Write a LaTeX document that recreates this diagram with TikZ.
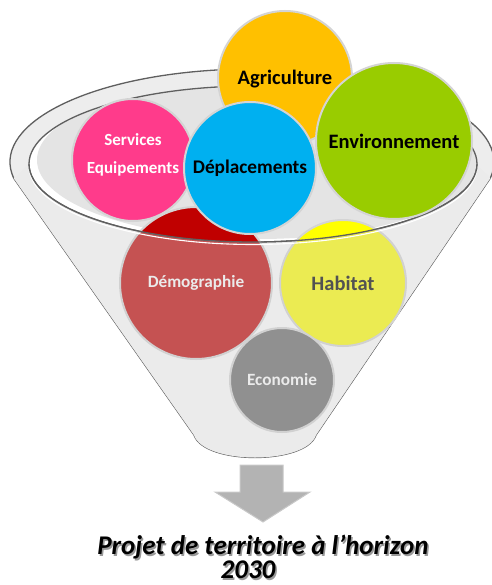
\documentclass[tikz,border=0pt]{standalone}
\usepackage{fontspec}
\setmainfont{Carlito}
\definecolor{rimgray}{HTML}{EDEDED}
\definecolor{edgegray}{HTML}{5F5F5F}
\definecolor{innergray}{HTML}{E4E4E4}
\definecolor{ringgray}{HTML}{D4D4D4}
\definecolor{fadegray}{HTML}{CDCDCD}
\definecolor{cAgri}{HTML}{FFC000}
\definecolor{cEnv}{HTML}{99CC00}
\definecolor{cServ}{HTML}{FF3B8B}
\definecolor{cDep}{HTML}{00B0F0}
\definecolor{cDemo}{HTML}{C00000}
\definecolor{cHab}{HTML}{FFFF00}
\definecolor{cEco}{HTML}{686868}
\definecolor{arrowgray}{HTML}{B3B3B3}
\definecolor{arrowedge}{HTML}{C8C8C8}
\newcommand{\lowercone}{(29,164) arc[start angle=180, end angle=0, x radius=224, y radius=78] -- (RJ) -- (RB) .. controls (306,465) and (204,465) .. (LB) -- (LJ) -- cycle}
\begin{document}
\begin{tikzpicture}[x=1pt,y=-1pt,
  bubble/.style={circle, draw=ringgray, line width=2pt, inner sep=0pt, font=\bfseries, align=center},
  big/.style={font=\fontsize{20.5}{24}\selectfont\bfseries},
  small/.style={font=\fontsize{17.2}{20}\selectfont\bfseries},
  edge/.style={draw=edgegray, line width=1.3pt, line join=round},
  title/.style={font=\fontsize{27}{32}\selectfont\bfseries\itshape, anchor=base, inner sep=0pt}
]
\useasboundingbox (0,0) rectangle (491,585);
% key points of the funnel
\coordinate (OC) at (252,162);
\coordinate (IC) at (253,164);
\coordinate (LJ) at (13.68,178.15);
\coordinate (RJ) at (490.32,178.15);
\coordinate (LB) at (194,435);
\coordinate (RB) at (316,435);
% funnel body
\path[fill=rimgray, edge] (LJ) arc[start angle=170, end angle=370, x radius=242, y radius=93] -- (RB) .. controls (306,465) and (204,465) .. (LB) -- cycle;
\fill[white] \lowercone;
% inner ellipse (mouth)
\begin{scope}
  \clip (IC) ellipse [x radius=224, y radius=78];
  \fill[white] (IC) ellipse [x radius=224, y radius=78];
  \fill[innergray] (259,160) ellipse [x radius=222, y radius=79];
\end{scope}
\draw[edge] (IC) ellipse [x radius=224, y radius=78];
% lower bubbles (seen through the funnel)
\node[bubble, fill=cDemo, minimum size=152pt, small, text=white] (demo) at (196,283) {Démographie};
\node[bubble, fill=cHab, minimum size=126pt, big, text=black] (hab) at (343,283) {Habitat};
\node[bubble, fill=cEco, minimum size=104pt, small, text=white] (eco) at (282,380) {Economie};
% funnel front (translucent)
\fill[fadegray, fill opacity=0.4] \lowercone;
\draw[white, line width=1.1pt] (29,166.5) arc[start angle=180, end angle=0, x radius=224, y radius=78];
\draw[edge] (29,164) arc[start angle=180, end angle=0, x radius=224, y radius=78];
% upper bubbles
\node[bubble, fill=cServ, minimum size=122pt, font=\fontsize{17}{20}\selectfont\bfseries, text=white] (serv) at (133,160)
  {\raisebox{0.5pt}[0pt][0pt]{\begin{tabular}{@{}c@{}}Services\\[8pt]Equipements\end{tabular}}};
\node[bubble, fill=cAgri, minimum size=134pt, big, text=black] (agri) at (285,78) {\raisebox{-7pt}[0pt][0pt]{Agriculture}};
\node[bubble, fill=cDep, minimum size=132pt, font=\fontsize{19.3}{23}\selectfont\bfseries, text=black] (dep) at (250,168) {Déplacements};
\node[bubble, fill=cEnv, minimum size=156pt, big, text=black] (env) at (394,141) {Environnement};
% arrow
\path[fill=arrowgray, draw=arrowedge, line width=1pt, line join=miter] (240,465) -- (283,465) -- (283,492) -- (310,492) -- (263,522) -- (215,492) -- (240,492) -- cycle;
% title with shadow
\node[title, text=black!40] (t1s) at (264.5,556) {Projet de territoire à l’horizon};
\node[title, text=black] (t1) at (263,554.5) {Projet de territoire à l’horizon};
\node[title, text=black!40] (t2s) at (249.5,580) {2030};
\node[title, text=black] (t2) at (248,578.5) {2030};
\end{tikzpicture}
\end{document}
